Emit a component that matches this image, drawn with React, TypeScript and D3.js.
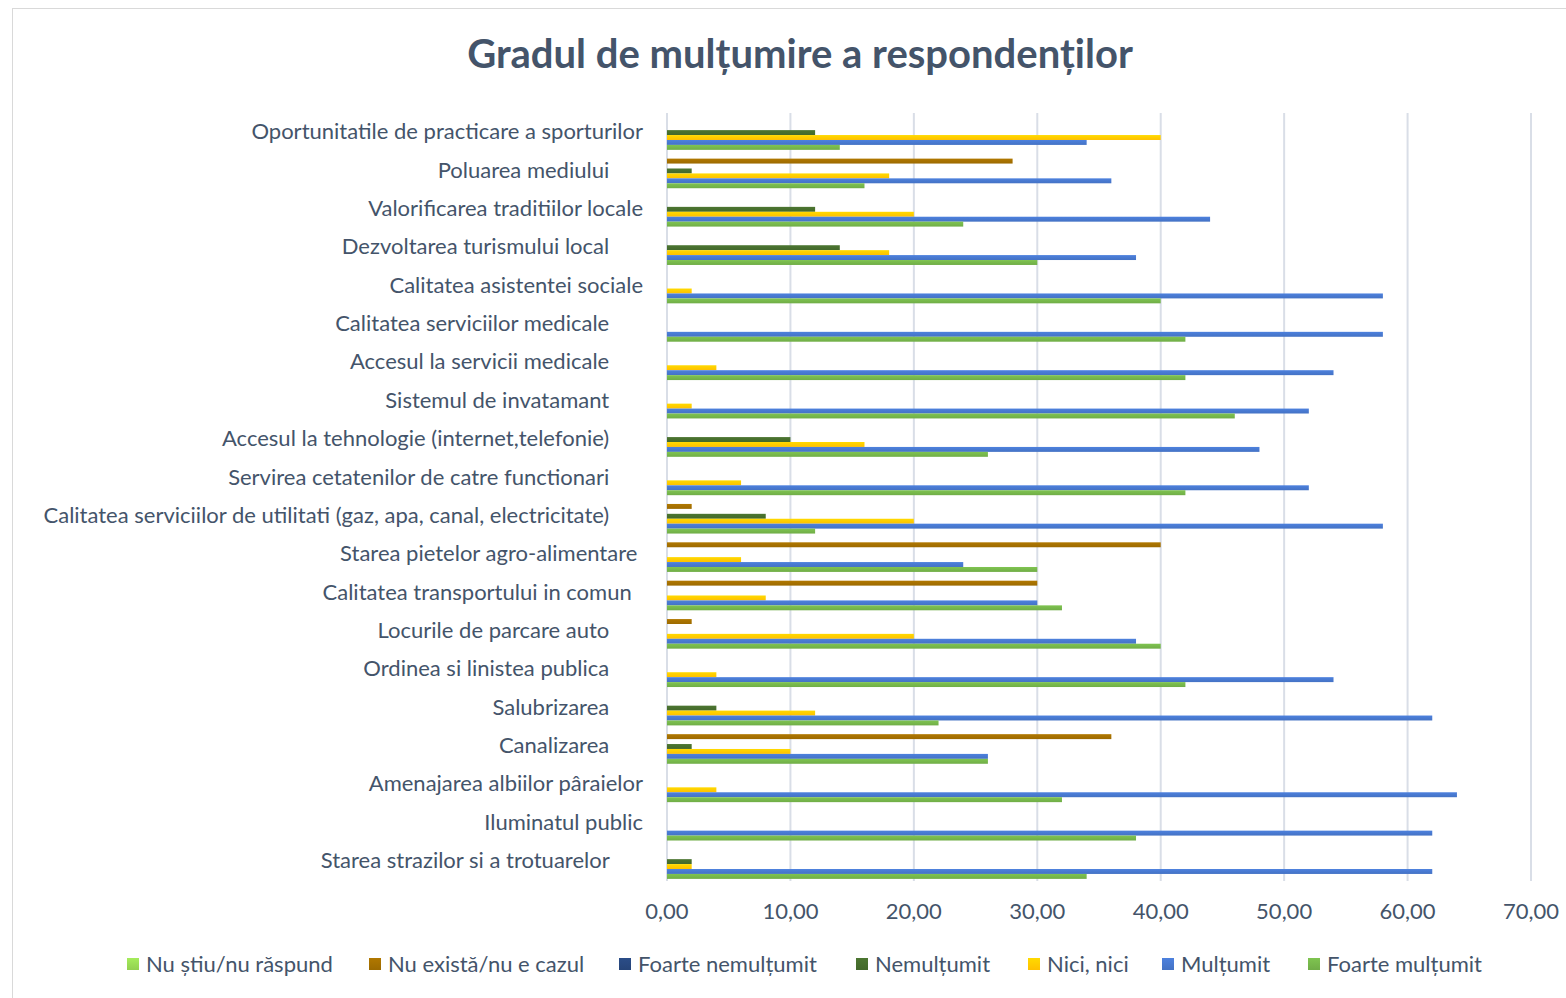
import React from "react";
import * as d3 from "d3";

const categories = [
  "Oportunitatile de practicare a sporturilor",
  "Poluarea mediului      ",
  "Valorificarea traditiilor locale",
  "Dezvoltarea turismului local      ",
  "Calitatea asistentei sociale",
  "Calitatea serviciilor medicale      ",
  "Accesul la servicii medicale      ",
  "Sistemul de invatamant      ",
  "Accesul la tehnologie (internet,telefonie)      ",
  "Servirea cetatenilor de catre functionari      ",
  "Calitatea serviciilor de utilitati (gaz, apa, canal, electricitate)      ",
  "Starea pietelor agro-alimentare ",
  "Calitatea transportului in comun  ",
  "Locurile de parcare auto      ",
  "Ordinea si linistea publica      ",
  "Salubrizarea      ",
  "Canalizarea      ",
  "Amenajarea albiilor pâraielor",
  "Iluminatul public",
  "Starea strazilor si a trotuarelor      ",
];

const seriesNames = [
  "Nu știu/nu răspund",
  "Nu există/nu e cazul",
  "Foarte nemulțumit",
  "Nemulțumit",
  "Nici, nici",
  "Mulțumit",
  "Foarte mulțumit",
];

const seriesColors = ["#92D050", "#9C6A00", "#264478", "#43682B", "#FFC000", "#4472C4", "#70AD47"];

const nuStiu = [0, 0, 0, 0, 0, 0, 0, 0, 0, 0, 0, 0, 0, 0, 0, 0, 0, 0, 0, 0];
const nuExista = [0, 28, 0, 0, 0, 0, 0, 0, 0, 0, 2, 40, 30, 2, 0, 0, 36, 0, 0, 0];
const foarteNemultumit = [0, 0, 0, 0, 0, 0, 0, 0, 0, 0, 0, 0, 0, 0, 0, 0, 0, 0, 0, 0];
const nemultumit = [12, 2, 12, 14, 0, 0, 0, 0, 10, 0, 8, 0, 0, 0, 0, 4, 2, 0, 0, 2];
const niciNici = [40, 18, 20, 18, 2, 0, 4, 2, 16, 6, 20, 6, 8, 20, 4, 12, 10, 4, 0, 2];
const multumit = [34, 36, 44, 38, 58, 58, 54, 52, 48, 52, 58, 24, 30, 38, 54, 62, 26, 64, 62, 62];
const foarteMultumit = [14, 16, 24, 30, 40, 42, 42, 46, 26, 42, 12, 30, 32, 40, 42, 22, 26, 32, 38, 34];

const seriesValues = [nuStiu, nuExista, foarteNemultumit, nemultumit, niciNici, multumit, foarteMultumit];

const xTicks = [0, 10, 20, 30, 40, 50, 60, 70];

const textColor = "#44546A";
const font = "Lato, 'Open Sans', sans-serif";

export default function App() {
  const x = d3.scaleLinear().domain([0, 70]).range([667, 1531]);
  const y = d3
    .scaleBand<string>()
    .domain(categories)
    .range([113.4, 880.8])
    .paddingInner(0.1)
    .paddingOuter(0.05);
  const ys = d3
    .scaleBand<string>()
    .domain(seriesNames)
    .range([0, y.bandwidth()]);
  const fmt = (v: number) => d3.format(".2f")(v).replace(".", ",");

  const legendX = [127, 369, 619, 856, 1028, 1162, 1308];

  return (
    <svg
      width={1566}
      height={998}
      style={{ position: "absolute", left: 0, top: 0, fontFamily: font }}
    >
      <defs>
        {seriesColors.map((c, i) => (
          <linearGradient key={i} id={`g${i}`} x1="0" y1="0" x2="0" y2="1">
            <stop offset="0" stopColor={d3.color(c)!.brighter(0.35).toString()} />
            <stop offset="1" stopColor={c} />
          </linearGradient>
        ))}
      </defs>
      <rect x={0} y={0} width={1566} height={998} fill="#fff" />
      <rect x={12.5} y={8.5} width={1560} height={1000} fill="none" stroke="#D9D9D9" />
      <text
        x={800}
        y={68}
        textAnchor="middle"
        fontSize={40}
        fontWeight="bold"
        fill={textColor}
      >
        Gradul de mulțumire a respondenților
      </text>

      {xTicks.map((t) => (
        <g key={t}>
          <line x1={x(t)} x2={x(t)} y1={113} y2={881} stroke="#D9DEE7" strokeWidth={2} />
          <text x={x(t)} y={919} textAnchor="middle" fontSize={22} fill={textColor}>
            {fmt(t)}
          </text>
        </g>
      ))}

      {categories.map((c, ci) => (
        <g key={c} transform={`translate(0,${y(c)})`}>
          {seriesValues.map((vals, si) =>
            vals[ci] > 0 ? (
              <rect
                key={si}
                x={x(0)}
                y={ys(seriesNames[si])}
                width={x(vals[ci]) - x(0)}
                height={ys.bandwidth()}
                fill={`url(#g${si})`}
              />
            ) : null
          )}
          <text
            x={643}
            y={y.bandwidth() / 2}
            dy="0.3em"
            textAnchor="end"
            fontSize={22}
            fill={textColor}
            style={{ whiteSpace: "pre" }}
          >
            {c}
          </text>
        </g>
      ))}

      {seriesNames.map((s, i) => (
        <g key={s} transform={`translate(${legendX[i]},964)`}>
          <rect x={0} y={-6} width={12} height={12} fill={`url(#g${i})`} />
          <text x={19} y={0} dy="0.35em" fontSize={22} fill={textColor}>
            {s}
          </text>
        </g>
      ))}
    </svg>
  );
}
